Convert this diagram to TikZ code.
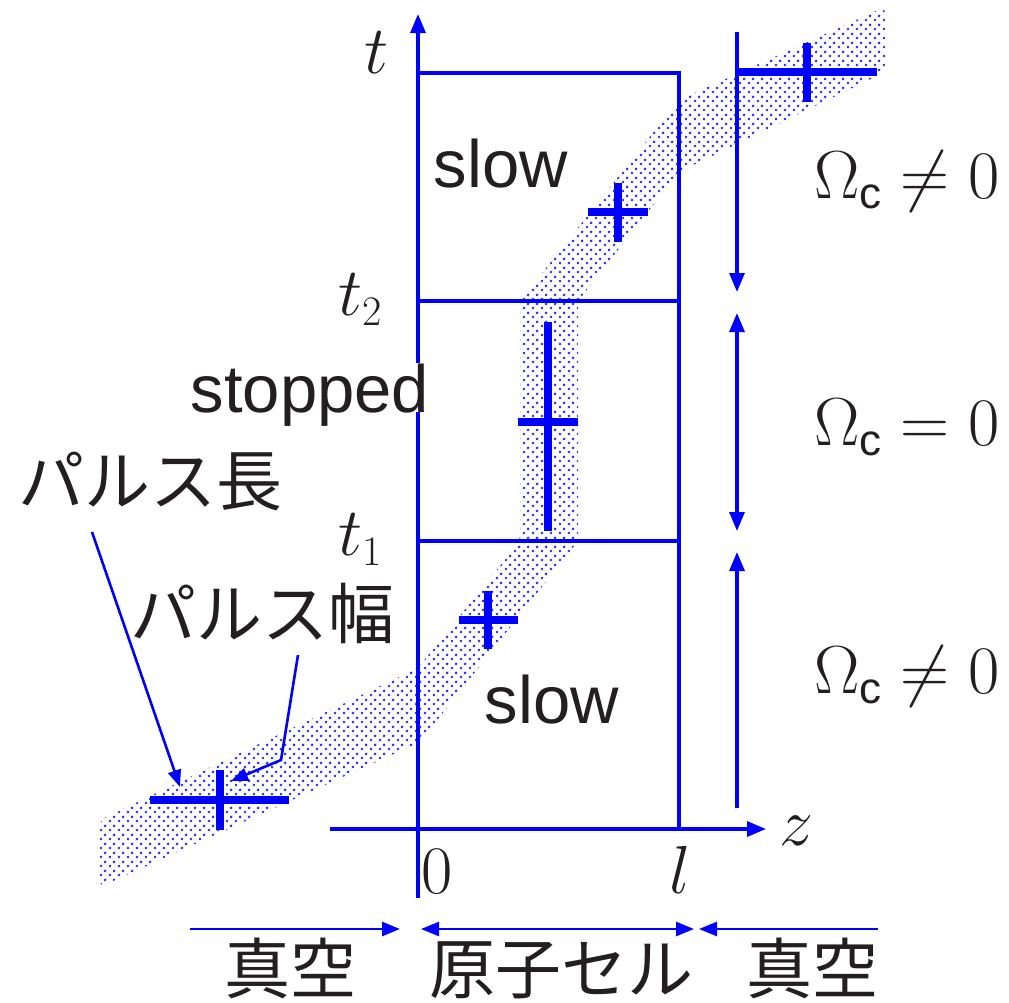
\RequirePackage{fix-cm}
\documentclass[tikz,border=0pt]{standalone}
\usepackage{fontspec}
\newfontfamily\hv{Liberation Sans}
\newfontfamily\jp{Noto Sans CJK JP}
\usetikzlibrary{arrows.meta,patterns.meta}
\DeclareMathSizes{68}{68}{42}{34}
\definecolor{ink}{HTML}{231F20}
\definecolor{pblue}{RGB}{0,0,255}
\tikzdeclarepattern{
  name=bandots,
  type=uncolored,
  bounding box={(0pt,0pt) and (9pt,9pt)},
  tile size={(9pt,9pt)},
  code={
    \pgfpathcircle{\pgfqpoint{2.25pt}{2.25pt}}{1.6pt}
    \pgfpathcircle{\pgfqpoint{6.75pt}{6.75pt}}{1.6pt}
    \pgfusepath{fill}
  }
}
\begin{document}
\begin{tikzpicture}[x=1pt,y=-1pt,
  frame/.style={draw=pblue,line width=3.2pt},
  bigtip/.style={-{Triangle[length=19pt,width=15pt]}},
  bothtip/.style={{Triangle[length=19pt,width=15pt]}-{Triangle[length=19pt,width=15pt]}},
  lbltip/.style={draw=pblue,line width=2.6pt,-{Triangle[length=17pt,width=13pt]}},
  crossbar/.style={draw=pblue,line width=7.5pt},
  mathlbl/.style={text=ink,inner sep=0pt,anchor=base,font=\fontsize{68}{80}\selectfont},
  sanslbl/.style={text=ink,inner sep=0pt,anchor=base,font=\hv\fontsize{67}{80}\selectfont},
  jplbl/.style={text=ink,inner sep=0pt,anchor=base,font=\jp\fontsize{66}{80}\selectfont},
  band/.style={pattern={bandots},pattern color=pblue!85,rounded corners=6pt}
]
\useasboundingbox (0,0) rectangle (1009,1002);

% pulse band
\path[band] (100,820) -- (418,668) -- (520,541) -- (520,301) -- (679,100)
  -- (885,7) -- (885,72) -- (679,172) -- (578,301) -- (578,541)
  -- (420,742) -- (100,887) -- cycle;

% coordinates
\coordinate (O) at (418,829);
\coordinate (taxbot) at (418,898);
\coordinate (taxtop) at (418,14);
\coordinate (zaxl) at (330,829);
\coordinate (zaxr) at (766,829);
\coordinate (TL) at (418,73);
\coordinate (BR) at (679,829);
\coordinate (t2l) at (418,301);
\coordinate (t2r) at (679,301);
\coordinate (t1l) at (418,541);
\coordinate (t1r) at (679,541);

% cell
\draw[frame] (TL) rectangle (BR);
\draw[frame] (t2l) -- (t2r);
\draw[frame] (t1l) -- (t1r);

% axes
\draw[frame,bigtip] (taxbot) -- (taxtop);
\draw[frame,bigtip] (zaxl) -- (zaxr);

% right side arrows
\coordinate (r0) at (737,32);
\coordinate (r1) at (737,292);
\coordinate (r2) at (737,313);
\coordinate (r3) at (737,531);
\coordinate (r4) at (737,552);
\coordinate (r5) at (737,808);
\draw[frame,bigtip] (r0) -- (r1);
\draw[frame,bothtip] (r2) -- (r3);
\draw[frame,bigtip] (r5) -- (r4);

% bottom arrows
\coordinate (b0) at (190,929);
\coordinate (b1) at (400,929);
\coordinate (b2) at (421,929);
\coordinate (b3) at (694,929);
\coordinate (b4) at (699,929);
\coordinate (b5) at (878,929);
\draw[frame,line width=2.6pt,-{Triangle[length=18pt,width=14pt]}] (b0) -- (b1);
\draw[frame,line width=2.6pt,{Triangle[length=18pt,width=14pt]}-{Triangle[length=18pt,width=14pt]}] (b2) -- (b3);
\draw[frame,line width=2.6pt,-{Triangle[length=18pt,width=14pt]}] (b5) -- (b4);

% crosses
\draw[crossbar] (150,800) -- (289,800);
\draw[crossbar] (220,770) -- (220,830);
\draw[crossbar] (459,620) -- (518,620);
\draw[crossbar] (488,591) -- (488,649);
\draw[crossbar] (518,422) -- (578,422);
\draw[crossbar] (548,322) -- (548,531);
\draw[crossbar] (588,212) -- (648,212);
\draw[crossbar] (618,183) -- (618,242);
\draw[crossbar] (738,72) -- (877,72);
\draw[crossbar] (807,43) -- (807,102);

% math labels
\node[mathlbl] (tlbl) at (377,73) {$t$};
\node[mathlbl] (t2lbl) at (360,315) {$t_2$};
\node[mathlbl] (t1lbl) at (360,555) {$t_1$};
\node[mathlbl] (zlbl) at (796,845) {$z$};
\node[mathlbl] (zero) at (437,893) {$0$};
\node[mathlbl] (ell) at (680,893) {$l$};
\node[mathlbl] (om1) at (907,198) {$\Omega_{\mbox{\hv\fontsize{44}{44}\selectfont c}}\neq 0$};
\node[mathlbl] (om2) at (907,445) {$\Omega_{\mbox{\hv\fontsize{44}{44}\selectfont c}}= 0$};
\node[mathlbl] (om3) at (907,693) {$\Omega_{\mbox{\hv\fontsize{44}{44}\selectfont c}}\neq 0$};

% sans labels
\node[sanslbl] (slowtop) at (501,187) {slow};
\node[sanslbl] (slowbot) at (552,723) {slow};
\node[sanslbl,fill=white,text depth=0pt] (stopped) at (310,412) {stopped};

% japanese labels
\node[jplbl] (lenlbl) at (151,505) {パルス長};
\node[jplbl] (widlbl) at (262,638) {パルス幅};
\node[jplbl] (vacl) at (290,993) {真空};
\node[jplbl] (cell) at (561,993) {原子セル};
\node[jplbl] (vacr) at (812,993) {真空};

% label arrows
\coordinate (lenstart) at (92,532);
\coordinate (lentip) at (180,787);
\coordinate (widstart) at (298,655);
\coordinate (widbend) at (281,760);
\coordinate (widtip) at (231,781);
\draw[lbltip] (lenstart) -- (lentip);
\draw[lbltip] (widstart) -- (widbend) -- (widtip);
\end{tikzpicture}
\end{document}
